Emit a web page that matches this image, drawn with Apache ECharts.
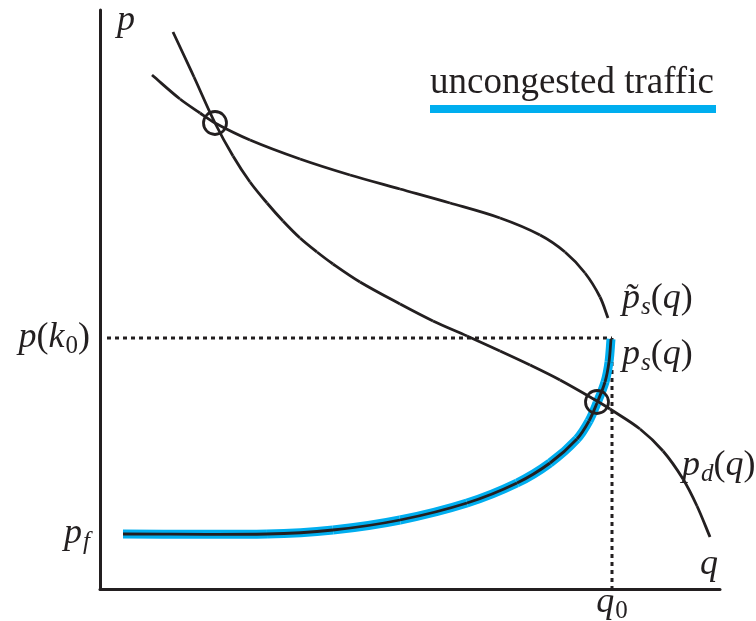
<!DOCTYPE html>
<html>
<head>
<meta charset="utf-8">
<script src="https://cdn.jsdelivr.net/npm/echarts@6/dist/echarts.min.js"></script>
<style>
  html, body { margin: 0; padding: 0; background: #fff; }
  #chart { width: 756px; height: 621px; }
</style>
</head>
<body>
<div id="chart"></div>
<script>
// Traffic flow diagram: demand curve, two supply branches and equilibria.
const qMax = 620;
const pMax = 579;

// demand curve p_d(q)
const demandQ = [73, 94, 115, 133, 150, 167, 183, 200, 217, 233, 260, 300, 333, 367, 400, 430, 460, 497, 510, 540, 563, 583, 597, 610];
const demandP = [557, 512, 466, 433, 407, 386, 368, 351, 337, 325, 307, 285, 268, 253, 238, 224, 209, 188, 180, 160, 138, 110, 83, 52];

// congested supply branch p~_s(q)
const supplyHiQ = [52, 80, 100, 115, 150, 200, 250, 300, 350, 400, 440, 465, 485, 500, 508];
const supplyHiP = [514, 490, 476, 466, 449, 430, 414, 400, 386, 371, 354, 337, 316, 292, 271];

// uncongested supply branch p_s(q)
const supplyLoQ = [23, 167, 233, 300, 367, 417, 450, 477, 489, 497, 505, 509, 511];
const supplyLoP = [55, 55, 59, 69, 86, 106, 126, 150, 168, 186, 207, 227, 250];

// reference levels
const q0 = 512;
const pK0 = 251;
const pF = 55;
const dottedStartQ = 7;

// equilibrium points
const equilibria = [[115, 466], [497, 187]];

const INK = '#231f20';
const BLUE = '#00aeef';
const serif = 'Liberation Serif';

// rich text styles for math labels
const rich = {
  i: { fontFamily: serif, fontStyle: 'italic', fontSize: 36, color: INK, lineHeight: 40 },
  r: { fontFamily: serif, fontSize: 36, color: INK, lineHeight: 40 },
  si: { fontFamily: serif, fontStyle: 'italic', fontSize: 25, color: INK, lineHeight: 40, padding: [16, 0, 0, 1] },
  sr: { fontFamily: serif, fontSize: 25, color: INK, lineHeight: 40, padding: [16, 0, 0, 1] }
};

// in-plot text labels placed in data coordinates
const textLabels = [
  { value: [17, 568], text: '{i|p}' },
  { value: [600, 24], text: '{i|q}' },
  { value: [522, 290], text: '{i|p\u0303}{si|s}{r|(}{i|q}{r|)}' },
  { value: [522, 234], text: '{i|p}{si|s}{r|(}{i|q}{r|)}' },
  { value: [582, 123], text: '{i|p}{si|d}{r|(}{i|q}{r|)}' }
];

// Smooth curve through the given points: cubic segments whose end tangents
// follow the neighbouring points (length-aware Catmull-Rom style).
function curveSeries(xs, ys, color, width, cap, z) {
  return {
    type: 'custom', silent: true, z: z, clip: false,
    data: [[xs[0], ys[0]]],
    renderItem: function (params, api) {
      const pts = xs.map((x, i) => api.coord([x, ys[i]]));
      const n = pts.length;
      const dist = (a, b) => Math.hypot(b[0] - a[0], b[1] - a[1]);
      const tangent = (i) => {
        const a = pts[Math.max(i - 1, 0)];
        const b = pts[Math.min(i + 1, n - 1)];
        const d = dist(a, b) || 1;
        return [(b[0] - a[0]) / d, (b[1] - a[1]) / d];
      };
      const children = [];
      for (let i = 0; i < n - 1; i++) {
        const p1 = pts[i], p2 = pts[i + 1];
        const L = dist(p1, p2) / 3;
        const t1 = tangent(i), t2 = tangent(i + 1);
        children.push({
          type: 'bezierCurve',
          shape: {
            x1: p1[0], y1: p1[1], x2: p2[0], y2: p2[1],
            cpx1: p1[0] + t1[0] * L, cpy1: p1[1] + t1[1] * L,
            cpx2: p2[0] - t2[0] * L, cpy2: p2[1] - t2[1] * L
          },
          style: { stroke: color, lineWidth: width, fill: null, lineCap: cap }
        });
      }
      return { type: 'group', children: children };
    }
  };
}

const chart = echarts.init(document.getElementById('chart'), null, { renderer: 'canvas' });

chart.setOption({
  animation: false,
  grid: { left: 100, right: 36, top: 10, bottom: 32, outerBoundsMode: 'none', containLabel: false },
  xAxis: {
    type: 'value', min: 0, max: qMax,
    splitLine: { show: false },
    axisLine: { show: true, onZero: false, lineStyle: { color: INK, width: 3 } },
    axisTick: { show: false },
    axisLabel: {
      customValues: [q0],
      margin: -6,
      formatter: () => '{i|q}{sr|0}',
      rich: rich
    }
  },
  yAxis: {
    type: 'value', min: 0, max: pMax,
    splitLine: { show: false },
    axisLine: { show: true, onZero: false, lineStyle: { color: INK, width: 3 } },
    axisTick: { show: false },
    axisLabel: {
      customValues: [pF, pK0],
      margin: 10,
      formatter: (v) => v === pF ? '{i|p}{si|f}' : '{i|p}{r|(}{i|k}{sr|0}{r|)}',
      rich: rich
    }
  },
  graphic: [
    {
      type: 'text', left: 430, top: 65,
      style: { text: 'uncongested traffic', font: '37px "Liberation Serif"', fill: INK }
    },
    {
      type: 'rect', shape: { x: 430, y: 105, width: 286, height: 8 },
      style: { fill: BLUE }
    }
  ],
  series: [
    // dotted guides for q0 and p(k0)
    {
      type: 'line', symbol: 'none', silent: true, z: 2,
      data: [[dottedStartQ, pK0], [q0, pK0]],
      lineStyle: { color: INK, width: 3, type: [4, 4] }
    },
    {
      type: 'line', symbol: 'none', silent: true, z: 2,
      data: [[q0, pK0], [q0, 0]],
      lineStyle: { color: INK, width: 3, type: [4, 4] }
    },
    // blue highlight under the uncongested branch, then the curves themselves
    curveSeries(supplyLoQ, supplyLoP, BLUE, 9, 'butt', 3),
    curveSeries(supplyLoQ, supplyLoP, INK, 2.8, 'butt', 4),
    curveSeries(supplyHiQ, supplyHiP, INK, 2.8, 'butt', 4),
    curveSeries(demandQ, demandP, INK, 2.8, 'butt', 4),
    // equilibrium markers
    {
      type: 'scatter', silent: true, z: 5,
      symbol: 'circle', symbolSize: 23,
      itemStyle: { color: 'rgba(0,0,0,0)', borderColor: INK, borderWidth: 2.8, opacity: 1 },
      data: equilibria
    },
    // text labels
    {
      type: 'scatter', silent: true, z: 6, symbolSize: 0,
      itemStyle: { opacity: 1 },
      data: textLabels.map(l => ({
        value: l.value,
        label: {
          show: true, position: 'inside', align: 'left', verticalAlign: 'middle',
          color: INK, opacity: 1, textBorderWidth: 0,
          formatter: l.text, rich: rich
        }
      }))
    }
  ]
});
</script>
</body>
</html>
